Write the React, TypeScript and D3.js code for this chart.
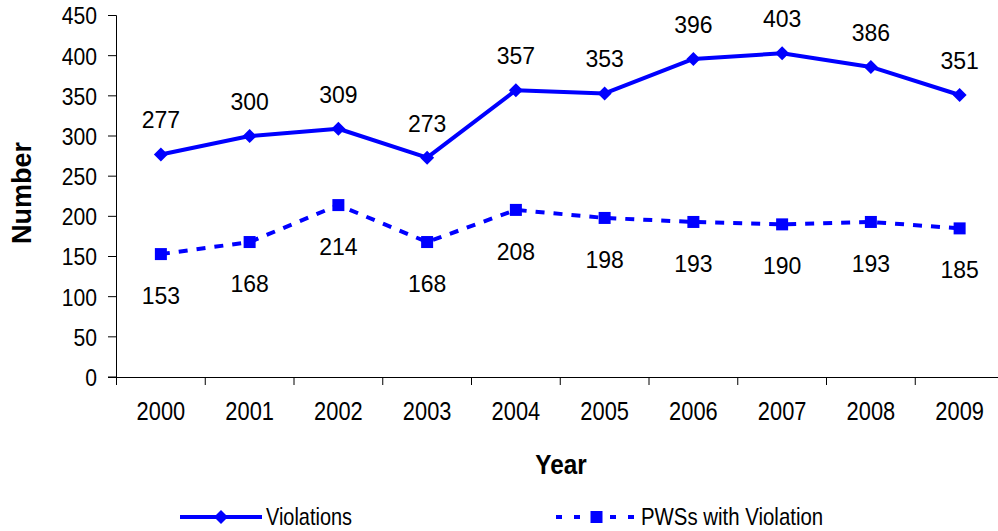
import React from "react";
import * as d3 from "d3";

const years = ["2000", "2001", "2002", "2003", "2004", "2005", "2006", "2007", "2008", "2009"];
const violations = [277, 300, 309, 273, 357, 353, 396, 403, 386, 351];
const pwsWithViolation = [153, 168, 214, 168, 208, 198, 193, 190, 193, 185];
const yTicks = [0, 50, 100, 150, 200, 250, 300, 350, 400, 450];

const W = 998;
const H = 531;
const BLUE = "#0000FF";
const SANS = "'Liberation Sans', Arial, sans-serif";

function NText(props: {
  x: number;
  y: number;
  s: number;
  size: number;
  anchor?: string;
  bold?: boolean;
  children: React.ReactNode;
}) {
  return (
    <text
      transform={`translate(${props.x},${props.y}) scale(${props.s},1)`}
      textAnchor={props.anchor || "start"}
      dominantBaseline="central"
      fontFamily={SANS}
      fontWeight={props.bold ? "bold" : "normal"}
      fontSize={props.size}
      fill="#000"
    >
      {props.children}
    </text>
  );
}

export default function App() {
  const x = d3.scaleBand<string>().domain(years).range([116.5, 1004]);
  const y = d3.scaleLinear().domain([0, 450]).range([377, 15.5]);
  const cx = (d: string) => (x(d) as number) + x.bandwidth() / 2;

  const line = d3
    .line<number>()
    .x((_, i) => cx(years[i]))
    .y((v) => y(v));

  const diamond = (px: number, py: number, r: number) =>
    `M${px},${py - r}L${px + r},${py}L${px},${py + r}L${px - r},${py}Z`;

  return (
    <div style={{ position: "absolute", left: 0, top: 0 }}>
      <svg width={W} height={H} style={{ display: "block", background: "#fff" }}>
        {/* y axis */}
        <line x1={116.5} x2={116.5} y1={15.5} y2={377} stroke="#000" strokeWidth={1} />
        {yTicks.map((t) => (
          <g key={t}>
            <line x1={108} x2={116.5} y1={y(t)} y2={y(t)} stroke="#000" strokeWidth={1} />
            <NText x={97} y={y(t) + 1} s={0.88} size={24} anchor="end">
              {t}
            </NText>
          </g>
        ))}
        {/* x axis */}
        <line x1={108} x2={W} y1={377.5} y2={377.5} stroke="#000" strokeWidth={1} />
        {years.map((yr) => (
          <line
            key={"t" + yr}
            x1={x(yr) as number}
            x2={x(yr) as number}
            y1={377}
            y2={385}
            stroke="#000"
            strokeWidth={1}
          />
        ))}
        {years.map((yr) => (
          <NText key={"l" + yr} x={cx(yr)} y={411} s={0.84} size={26} anchor="middle">
            {yr}
          </NText>
        ))}
        {/* axis titles */}
        <NText x={561} y={465} s={0.9} size={27} anchor="middle" bold>
          Year
        </NText>
        <text
          transform="translate(22,193) rotate(-90)"
          textAnchor="middle"
          dominantBaseline="central"
          fontFamily={SANS}
          fontWeight="bold"
          fontSize={27}
          fill="#000"
        >
          Number
        </text>

        {/* PWS dashed */}
        <path
          d={line(pwsWithViolation) || ""}
          fill="none"
          stroke={BLUE}
          strokeWidth={4}
          strokeDasharray="9,9"
        />
        {pwsWithViolation.map((v, i) => (
          <rect
            key={"s" + i}
            x={cx(years[i]) - 6}
            y={y(v) - 6}
            width={12}
            height={12}
            fill={BLUE}
          />
        ))}
        {pwsWithViolation.map((v, i) => (
          <text
            key={"ps" + i}
            x={cx(years[i])}
            y={y(v) + 42}
            textAnchor="middle"
            dominantBaseline="central"
            fontFamily={SANS}
            fontSize={23}
            fill="#000"
          >
            {v}
          </text>
        ))}

        {/* Violations solid */}
        <path d={line(violations) || ""} fill="none" stroke={BLUE} strokeWidth={4} strokeLinejoin="round" />
        {violations.map((v, i) => (
          <path key={"d" + i} d={diamond(cx(years[i]), y(v), 7)} fill={BLUE} />
        ))}
        {violations.map((v, i) => (
          <text
            key={"vl" + i}
            x={cx(years[i])}
            y={y(v) - 34}
            textAnchor="middle"
            dominantBaseline="central"
            fontFamily={SANS}
            fontSize={23}
            fill="#000"
          >
            {v}
          </text>
        ))}

        {/* legend */}
        <line x1={180} x2={262} y1={517} y2={517} stroke={BLUE} strokeWidth={4} />
        <path d={diamond(221, 517, 7)} fill={BLUE} />
        <NText x={266} y={517} s={0.83} size={24}>
          Violations
        </NText>
        <line
          x1={556}
          x2={637}
          y1={517}
          y2={517}
          stroke={BLUE}
          strokeWidth={4}
          strokeDasharray="6,12"
        />
        <rect x={590.5} y={511} width={12} height={12} fill={BLUE} />
        <NText x={641} y={517} s={0.85} size={24}>
          PWSs with Violation
        </NText>
      </svg>
    </div>
  );
}
